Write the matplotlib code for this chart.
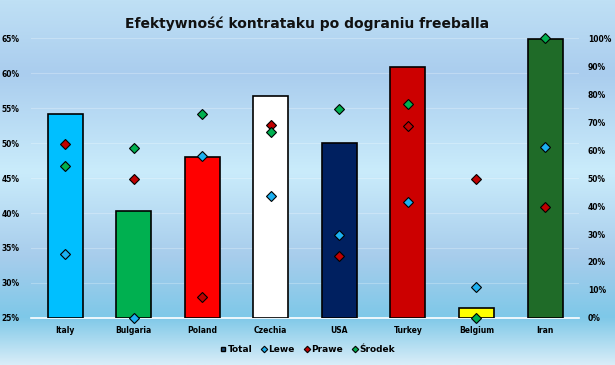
import matplotlib.pyplot as plt
import numpy as np
from matplotlib.colors import LinearSegmentedColormap

# dane
kraje = ['Italy', 'Bulgaria', 'Poland', 'Czechia', 'USA', 'Turkey', 'Belgium', 'Iran']
total = [54.1, 40.3, 48.0, 56.7, 50.0, 60.9, 26.4, 64.9]
lewe = [23.0, 0.0, 58.0, 43.5, 29.6, 41.3, 11.0, 61.0]
prawe = [62.0, 49.5, 7.4, 68.9, 22.1, 68.5, 49.6, 39.5]
srodek = [54.3, 60.8, 72.7, 66.3, 74.5, 76.4, 0.0, 100.0]
kolory_slupkow = ['#00BFFF', '#00B050', '#FF0000', '#FFFFFF', '#002060', '#CC0000', '#FFFF00', '#1F6B28']

fig = plt.figure(figsize=(6.15, 3.65), dpi=100)

# tlo z gradientem
tlo = fig.add_axes([0, 0, 1, 1], zorder=-10)
cmap = LinearSegmentedColormap.from_list('tlo', [
    (0.0, '#bfe0f5'), (0.2, '#aacdee'), (0.47, '#caecfb'),
    (0.7, '#a8cdec'), (0.87, '#7ec8e8'), (1.0, '#d8edf8')])
tlo.imshow(np.linspace(0, 1, 256).reshape(-1, 1), aspect='auto', cmap=cmap,
           extent=[0, 1, 0, 1])
tlo.axis('off')

ax = fig.add_axes([0.05, 0.1288, 0.892, 0.767])
ax.patch.set_alpha(0)
x = np.arange(len(kraje))
ax.bar(x, [t - 25 for t in total], bottom=25, width=0.51, color=kolory_slupkow,
       edgecolor='black', linewidth=1.2, zorder=3)
ax.set_ylim(25, 65)
ax.set_xlim(-0.5, len(kraje) - 0.5)
ax.set_yticks(range(25, 70, 5))
ax.set_yticklabels([f'{v}%' for v in range(25, 70, 5)])
ax.set_xticks(x)
ax.set_xticklabels(kraje)
ax.grid(axis='y', color='white', alpha=0.25, linewidth=0.8, zorder=0)
for s in ['top', 'right', 'left']:
    ax.spines[s].set_visible(False)
ax.spines['bottom'].set_color('white')
ax.spines['bottom'].set_linewidth(1.2)
ax.tick_params(length=0, labelsize=5.5, pad=6)
for lbl in ax.get_xticklabels() + ax.get_yticklabels():
    lbl.set_fontweight('bold')
ax.tick_params(axis='y', pad=8)

ax2 = ax.twinx()
ax2.set_ylim(0, 100)
ax2.set_yticks(range(0, 110, 10))
ax2.set_yticklabels([f'{v}%' for v in range(0, 110, 10)])
for s in ax2.spines.values():
    s.set_visible(False)
ax2.tick_params(length=0, labelsize=5.5, pad=6)
for lbl in ax2.get_yticklabels():
    lbl.set_fontweight('bold')

ax2.plot(x, lewe, 'D', color='#1CB0F0', markeredgecolor='black', markersize=5.5,
         markeredgewidth=0.8, label='Lewe', zorder=5, clip_on=False)
ax2.plot(x, prawe, 'D', color='#C00000', markeredgecolor='black', markersize=5.5,
         markeredgewidth=0.8, label='Prawe', zorder=5, clip_on=False)
ax2.plot(x, srodek, 'D', color='#00B050', markeredgecolor='black', markersize=5.5,
         markeredgewidth=0.8, label='Środek', zorder=5, clip_on=False)

# legenda
uchwyty = [plt.Line2D([], [], marker='s', color='#1F4E79', markeredgecolor='black',
                      markersize=5, linestyle='')]
uchwyty += ax2.get_lines()
fig.legend(uchwyty, ['Total', 'Lewe', 'Prawe', 'Środek'], loc='center',
           bbox_to_anchor=(0.5, 0.043), ncol=4, frameon=False, handlelength=0.6,
           handletextpad=0.2, columnspacing=1.0, markerscale=0.6,
           prop={'size': 6.5, 'weight': 'bold'})

fig.suptitle('Efektywność kontrataku po dograniu freeballa', y=0.955,
             fontsize=10, fontweight='bold', color='#111111')

plt.savefig('out.png', dpi=100)
